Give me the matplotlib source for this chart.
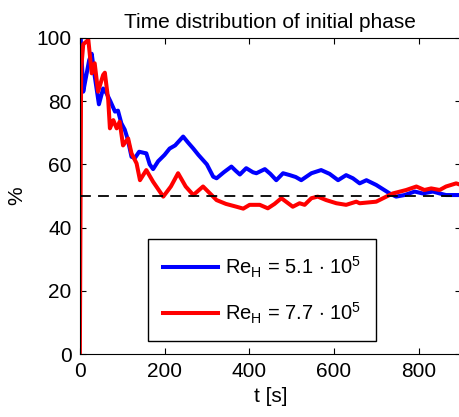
import matplotlib
matplotlib.use("Agg")
import matplotlib.pyplot as plt

plt.rcParams['font.family'] = ['Liberation Sans', 'DejaVu Sans']
plt.rcParams['mathtext.fontset'] = 'custom'
plt.rcParams['mathtext.rm'] = 'Liberation Sans'
plt.rcParams['mathtext.it'] = 'Liberation Sans'

title = "Time distribution of initial phase"
xlabel = "t [s]"
ylabel = "%"
x_ticks = [0, 200, 400, 600, 800]
y_ticks = [0, 20, 40, 60, 80, 100]
ref_level = 50

blue_label = r"$\mathrm{Re_H}$ = 5.1 $\cdot$ 10$^5$"
blue_t = [0, 2, 8, 15, 22, 28, 35, 45, 55, 63, 72, 83, 90, 98, 106, 113, 122, 130, 140, 153,
          157, 165, 173, 185, 200, 212, 225, 244, 255, 268, 280, 300, 315, 323, 340, 358, 368, 378, 393, 409,
          417, 437, 450, 464, 480, 496, 510, 523, 547, 570, 590, 610, 629, 645, 661, 677, 700, 732, 747, 767,
          791, 810, 834, 850, 865, 893, 900]
blue_y = [100, 100, 83, 88, 93, 95, 88, 79, 84, 82.5, 80, 76.7, 77, 73, 71, 68, 62.4, 62, 64, 63.6,
          63.5, 60, 58.5, 61, 63, 65, 66, 68.8, 67, 65, 63, 60, 56.1, 55.6, 57.5, 59.3, 58, 56.8, 58.8, 57.5,
          57.2, 58.5, 57, 55, 57.2, 56.6, 56, 55, 57.2, 58.2, 57, 55, 56.6, 55.6, 54, 55, 53.5, 50.8, 49.8, 50.3,
          51.4, 50.8, 51.4, 50.8, 50.3, 50.3, 50.3]

red_label = r"$\mathrm{Re_H}$ = 7.7 $\cdot$ 10$^5$"
red_t = [0, 3, 8, 20, 28, 35, 43, 55, 59, 67, 71, 79, 87, 94, 102, 114, 122, 134, 142, 157,
         173, 197, 215, 232, 250, 268, 291, 323, 345, 370, 386, 401, 425, 444, 460, 476, 503, 519, 531, 547,
         562, 582, 606, 629, 653, 661, 700, 724, 739, 771, 795, 814, 830, 850, 865, 889, 900]
red_y = [0, 90, 98, 99.4, 88.8, 92, 83, 88.3, 89, 80.4, 71.4, 74, 71.4, 73.5, 66, 68.2, 63.5, 60.3, 55, 58.2,
         54.5, 49.8, 53, 57.2, 53, 50.3, 53, 48.7, 47.5, 46.6, 46, 47.2, 47.2, 46.1, 47.5, 49.3, 46.6, 47.7, 47.2, 49.3,
         49.8, 48.7, 47.7, 47.2, 48.2, 47.7, 48.2, 49.8, 50.8, 51.9, 53, 51.9, 52.4, 51.9, 53, 54, 53.5]

fig = plt.figure(figsize=(4.59, 4.17), dpi=100)
ax = fig.add_axes([0.174, 0.151, 0.83, 0.758])

ax.plot(blue_t, blue_y, color='#0000ff', lw=2.9, label=blue_label, solid_joinstyle='round')
ax.plot(red_t, red_y, color='#ff0000', lw=2.9, label=red_label, solid_joinstyle='round')
ax.axhline(ref_level, color='black', lw=1.3, ls=(0, (6, 4)))

ax.set_xlim(0, 900)
ax.set_ylim(0, 100)
ax.set_xticks(x_ticks)
ax.set_yticks(y_ticks)
ax.tick_params(direction='in', top=True, right=True, length=4, labelsize=15, width=0.8, pad=6)
ax.set_title(title, fontsize=15, pad=7)
ax.set_xlabel(xlabel, fontsize=15, labelpad=4)
ax.set_ylabel(ylabel, fontsize=15, labelpad=7)

leg = ax.legend(loc='lower left', bbox_to_anchor=(0.178, 0.041), fontsize=14.5,
                fancybox=False, edgecolor='black', framealpha=1, handlelength=2.75,
                borderpad=0.75, labelspacing=1.05, handletextpad=0.35, borderaxespad=0)
leg.get_frame().set_linewidth(1.0)

fig.savefig("out.png", dpi=100)
